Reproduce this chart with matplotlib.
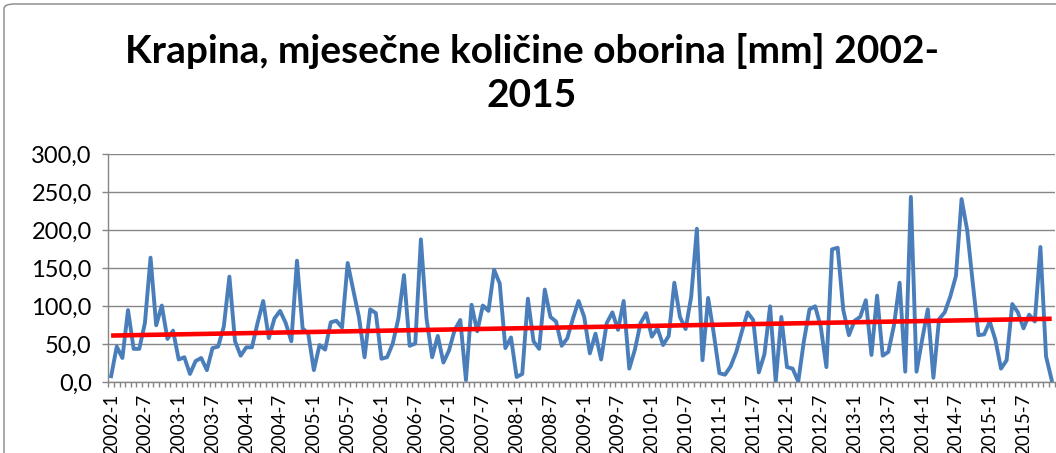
import matplotlib
matplotlib.use("Agg")
import matplotlib.pyplot as plt
from matplotlib.patches import FancyBboxPatch
from matplotlib.ticker import FixedLocator, FuncFormatter
import numpy as np

years = list(range(2002, 2016))
months = list(range(1, 13))

# monthly precipitation [mm], one row per year
p2002 = [8, 47, 32, 95, 44, 44, 78, 164, 75, 101, 57, 68]
p2003 = [30, 33, 11, 28, 32, 16, 45, 47, 73, 139, 54, 35]
p2004 = [46, 46, 78, 107, 58, 84, 94, 78, 54, 160, 71, 64]
p2005 = [16, 49, 43, 79, 81, 72, 157, 121, 86, 33, 96, 91]
p2006 = [31, 33, 51, 84, 141, 48, 51, 188, 84, 33, 61, 26]
p2007 = [42, 69, 82, 3, 102, 67, 101, 94, 148, 130, 45, 59]
p2008 = [7, 11, 110, 54, 44, 122, 86, 80, 48, 58, 84, 107]
p2009 = [86, 38, 64, 30, 78, 92, 69, 107, 18, 43, 78, 91]
p2010 = [60, 71, 49, 61, 131, 86, 70, 113, 202, 29, 111, 64]
p2011 = [12, 10, 21, 40, 67, 92, 82, 13, 37, 100, 1, 86]
p2012 = [20, 18, 1, 54, 96, 100, 73, 20, 175, 177, 95, 62]
p2013 = [81, 86, 108, 36, 114, 35, 40, 75, 131, 14, 244, 14]
p2014 = [56, 96, 6, 83, 92, 113, 140, 241, 200, 130, 62, 63]
p2015 = [80, 56, 18, 29, 103, 92, 71, 89, 80, 178, 34, 3]

rows = [p2002, p2003, p2004, p2005, p2006, p2007, p2008,
        p2009, p2010, p2011, p2012, p2013, p2014, p2015]
values = np.array([v for r in rows for v in r], dtype=float)
labels = [f"{y}-{m}" for y in years for m in months]
x = np.arange(len(values))

title = "Krapina, mjesečne količine oborina [mm] 2002-\n2015"

W, H = 1056, 453
fig = plt.figure(figsize=(W / 100, H / 100), dpi=100)
fig.patch.set_facecolor("white")

# chart border (Excel chart area)
fig.patches.append(FancyBboxPatch((4 / W, -0.05), 1.2, 1 - 4 / H + 0.05,
                                  boxstyle="round,pad=0,rounding_size=0.01",
                                  transform=fig.transFigure, fill=False,
                                  edgecolor="#868686", linewidth=1.0))

left, right, top, bottom = 108.3, 1054.5, 154.3, 382.3
ax = fig.add_axes([left / W, 1 - bottom / H, (right - left) / W, (bottom - top) / H])

ax.plot(x, values, color="#4A7EBB", linewidth=2.8, solid_joinstyle="round", zorder=3)

# linear trend (Excel trendline)
k, n = np.polyfit(x, values, 1)
ax.plot([x[0], x[-1]], [n + k * x[0], n + k * x[-1]], color="#FF0000",
        linewidth=3.3, solid_capstyle="butt", zorder=4)

ax.set_xlim(-0.5, len(values) - 0.5)
ax.set_ylim(0, 300)
ax.set_yticks(np.arange(0, 301, 50))
ax.yaxis.set_major_formatter(FuncFormatter(lambda v, p: f"{v:.1f}".replace(".", ",")))
ax.grid(axis="y", color="#868686", linewidth=1.0)
ax.set_axisbelow(True)

ax.set_xticks(x[::6])
ax.set_xticklabels(labels[::6], rotation=90, fontsize=13.5, family="Lato")
ax.xaxis.set_minor_locator(FixedLocator(np.arange(-0.5, len(values), 1)))
ax.tick_params(axis="x", which="major", length=0, pad=8)
ax.tick_params(axis="x", which="minor", length=3.6, color="#868686", width=1)
ax.tick_params(axis="y", length=4.5, color="#868686", width=1, pad=7.5,
               labelsize=17, labelfontfamily="Lato")

for s in ["top", "right"]:
    ax.spines[s].set_visible(False)
for s in ["left", "bottom"]:
    ax.spines[s].set_color("#868686")
    ax.spines[s].set_linewidth(1.0)

fig.text(532 / W, 1 - 33 / H, title, ha="center", va="top", fontsize=28,
         fontweight="bold", family="Lato", linespacing=1.3)

fig.savefig("out.png", dpi=100)
